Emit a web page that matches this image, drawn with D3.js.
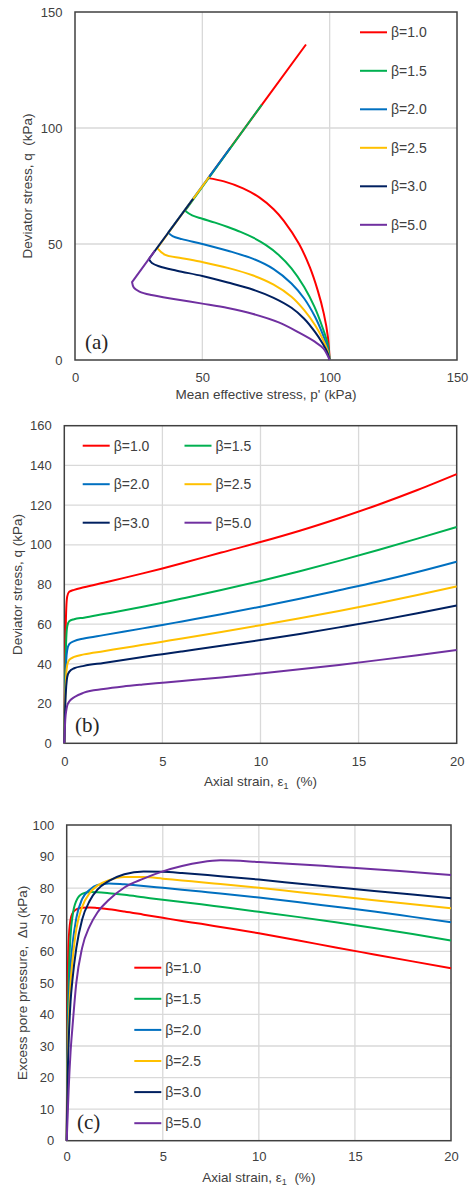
<!DOCTYPE html>
<meta charset="utf-8">
<head>
	<title>Stress paths, deviator stress and excess pore pressure</title>
	<script src="https://cdn.jsdelivr.net/npm/d3@7"></script>
	<style>
		body { margin: 0; background: #fff; }
		text { font-family: Arial, "Liberation Sans", sans-serif; fill: #404040; }
		.grid line { stroke: #d9d9d9; stroke-width: 1.3; }
		.frame { fill: none; stroke: #404040; stroke-width: 1.5; }
		.curve { fill: none; stroke-width: 2; stroke-linejoin: round; }
		.tag { font-family: "Liberation Serif", "Times New Roman", serif; font-size: 21px; fill: #262626; }
	</style>
</head>
<body>
<div id="chart"></div>
<script>
	// ---- data ----
	var betaLabels = ["β=1.0", "β=1.5", "β=2.0", "β=2.5", "β=3.0", "β=5.0"];
	var betaColors = ["#ff0000", "#00b050", "#0070c0", "#ffc000", "#002060", "#7030a0"];

	// (a) effective stress paths, [p', q] in kPa
	// curved part from (100,0) up to the turning point, last point = end on the failure line
	var pathA10 = [[100,0],[99.3,10],[97.7,20],[95.3,30],[92.2,40],[88,50],[82,60],[78,65],[72.5,70],[66,74],[58.5,77],[52.3,78.4],[90.7,136]];
	var pathA15 = [[100,0],[99.2,7],[97.2,14],[94,23],[90,31.5],[85,39.5],[80,45.3],[75,49.5],[70,52.7],[65,55.2],[60,57.3],[55,59.2],[50,60.9],[46,62.3],[43.2,64.3],[73.3,110]];
	var pathA20 = [[100,0],[99.2,5],[97.3,11],[94.3,18.5],[90,26.5],[85,33],[78,39.2],[70,43.6],[60,47.1],[50,50],[42,52.1],[38.3,53.4],[36.6,54.9],[61,91.5]];
	var pathA25 = [[100,0],[99.2,4],[97.3,9],[94.3,15],[90,21.5],[85,27.3],[78,32.5],[70,36.4],[60,39.7],[50,42.2],[42,43.9],[35.2,45.4],[32.3,48.2],[52.7,79]];
	var pathA30 = [[100,0],[99.2,3],[97.3,7],[94.3,12],[90,17.8],[85,22.5],[78,26.8],[70,30.3],[60,33.4],[50,36.2],[40,38.5],[33,40.4],[30.2,41.8],[29,43.5],[46.4,69.5]];
	var pathA50 = [[100,0],[97.5,5],[94,8],[88,11.8],[80,16.2],[70,19.8],[60,22.4],[50,24.3],[40,26.1],[30,28],[25.3,29.5],[23.1,31.2],[22.4,33.6],[31.3,47]];
	var pathsA = [pathA10, pathA15, pathA20, pathA25, pathA30, pathA50];

	// (b) deviator stress q (kPa) against axial strain (%)
	var strainB = [0, 0.05, 0.1, 0.15, 0.25, 0.5, 1, 2, 3, 4, 5, 6, 8, 10, 12, 14, 16, 18, 20];
	var qB10 = [0, 45, 68, 74, 76.3, 77.3, 78.6, 80.9, 83.2, 85.6, 88.1, 90.7, 96.1, 101.4, 107.1, 113.4, 120.2, 127.6, 135.6];
	var qB15 = [0, 35, 53, 59, 61.5, 62.5, 63.3, 65.1, 66.9, 68.8, 70.8, 72.9, 77.2, 81.8, 86.7, 91.9, 97.4, 103.1, 109];
	var qB20 = [0, 28, 42, 47, 50, 51.5, 52.8, 54.5, 56.2, 57.9, 59.6, 61.4, 65, 68.8, 72.8, 77.1, 81.5, 86.3, 91.5];
	var qB25 = [0, 24, 35, 39.5, 42, 43.5, 44.8, 46.4, 48, 49.6, 51.2, 52.8, 56.1, 59.5, 63, 66.7, 70.6, 74.7, 79];
	var qB30 = [0, 20, 29, 33.5, 36, 37.8, 39, 40.5, 42, 43.5, 44.9, 46.3, 49.1, 52, 55.1, 58.4, 61.8, 65.5, 69.4];
	var qB50 = [0, 12, 16.5, 19, 21, 23.2, 25.5, 27.3, 28.6, 29.6, 30.5, 31.4, 33.2, 35.2, 37.3, 39.5, 41.9, 44.4, 47];
	var qB = [qB10, qB15, qB20, qB25, qB30, qB50];

	// (c) excess pore pressure (kPa) against axial strain (%)
	var strainC = [0, 0.05, 0.1, 0.2, 0.3, 0.5, 0.8, 1.2, 1.6, 2.2, 3, 4, 5, 6, 7, 8, 10, 12, 14, 16, 18, 20];
	var uC10 = [0, 48, 63, 70, 72, 73.3, 73.8, 73.9, 73.7, 73.3, 72.6, 71.6, 70.6, 69.6, 68.7, 67.7, 65.7, 63.5, 61.2, 59, 56.8, 54.6];
	var uC15 = [0, 35, 50, 65, 71, 76, 78.2, 78.8, 78.7, 78.4, 77.9, 77.1, 76.3, 75.6, 74.9, 74.1, 72.5, 70.9, 69.2, 67.4, 65.5, 63.4];
	var uC20 = [0, 28, 42, 55, 62, 70.5, 76.5, 79.5, 81, 81.5, 81.2, 80.7, 80.1, 79.5, 78.9, 78.3, 77, 75.6, 74.1, 72.6, 70.9, 69.2];
	var uC25 = [0, 24, 36, 50, 57, 67, 74, 78.5, 80.8, 82.5, 83.5, 83.5, 83, 82.4, 81.9, 81.3, 80.1, 78.8, 77.5, 76.2, 74.9, 73.6];
	var uC30 = [0, 20, 31, 44, 51, 61, 70, 76, 79.5, 82.3, 84.4, 85.3, 85.2, 84.8, 84.3, 83.8, 82.7, 81.5, 80.3, 79.1, 78, 76.8];
	var uC50 = [0, 8, 16, 28, 36, 50, 61, 68, 72.3, 76.3, 80.2, 83, 85.3, 87, 88.2, 88.8, 88.3, 87.6, 86.8, 86, 85.1, 84.2];
	var uC = [uC10, uC15, uC20, uC25, uC30, uC50];

	// tick labels
	var ticksA = [0, 50, 100, 150];
	var ticksStrain = [0, 5, 10, 15, 20];
	var ticksQB = [0, 20, 40, 60, 80, 100, 120, 140, 160];
	var ticksUC = [0, 10, 20, 30, 40, 50, 60, 70, 80, 90, 100];

	var w = 475, h = 1187;
	var svg = d3.select("#chart").append("svg").attr("width", w).attr("height", h);

	// draws grid, frame and tick labels for one panel, returns the scales
	function drawPanel(c) {
		var x = d3.scaleLinear().domain([c.xTicks[0], c.xTicks[c.xTicks.length - 1]]).range([c.left, c.right]);
		var y = d3.scaleLinear().domain([c.yTicks[0], c.yTicks[c.yTicks.length - 1]]).range([c.bottom, c.top]);
		var g = svg.append("g");

		var grid = g.append("g").attr("class", "grid");
		grid.selectAll(".gx").data(c.xTicks.slice(1, -1)).enter().append("line")
			.attr("x1", d => x(d)).attr("x2", d => x(d)).attr("y1", c.top).attr("y2", c.bottom);
		grid.selectAll(".gy").data(c.yTicks.slice(1, -1)).enter().append("line")
			.attr("y1", d => y(d)).attr("y2", d => y(d)).attr("x1", c.left).attr("x2", c.right);

		g.append("rect").attr("class", "frame")
			.attr("x", c.left).attr("y", c.top).attr("width", c.right - c.left).attr("height", c.bottom - c.top);

		var ax = g.append("g").attr("transform", "translate(0," + c.bottom + ")")
			.call(d3.axisBottom(x).tickValues(c.xTicks).tickSize(0).tickPadding(c.padX).tickFormat(d3.format("d")));
		var ay = g.append("g").attr("transform", "translate(" + c.left + ",0)")
			.call(d3.axisLeft(y).tickValues(c.yTicks).tickSize(0).tickPadding(12.5).tickFormat(d3.format("d")));
		[ax, ay].forEach(function (a) {
			a.select(".domain").remove();
			a.attr("font-size", 13).attr("font-family", null).attr("color", "#404040");
		});

		// axis titles
		var xt = g.append("text").attr("x", (c.left + c.right) / 2).attr("y", c.xTitleY)
			.attr("text-anchor", "middle").style("font-size", "13.5px").style("white-space", "pre");
		if (c.strain) {
			xt.append("tspan").text("Axial strain, ε");
			xt.append("tspan").attr("font-size", "9px").attr("dy", 3).text("1");
			xt.append("tspan").attr("dy", -3).text("  (%)");
		} else {
			xt.text(c.xTitle);
		}
		g.append("text").attr("transform", "translate(" + c.yTitleX + "," + (c.top + c.bottom) / 2 + ") rotate(-90)")
			.attr("text-anchor", "middle").style("font-size", "13.5px").style("white-space", "pre")
			.text(c.yTitle);

		g.append("text").attr("class", "tag").attr("x", c.tagX).attr("y", c.tagY).text(c.tag);
		return { x: x, y: y, g: g };
	}

	function legendItem(g, x0, yRow, i) {
		g.append("line").attr("x1", x0).attr("x2", x0 + 27).attr("y1", yRow).attr("y2", yRow)
			.attr("stroke", betaColors[i]).attr("stroke-width", 2);
		g.append("text").attr("x", x0 + 31).attr("y", yRow).attr("dy", "0.36em")
			.style("font-size", "14px").text(betaLabels[i]);
	}

	// ---- (a) stress path ----
	var pa = drawPanel({ left: 75, right: 457, top: 12, bottom: 360, xTicks: ticksA, yTicks: ticksA, padX: 12.5,
		xTitle: "Mean effective stress, p' (kPa)", xTitleY: 399, yTitle: "Deviator stress, q  (kPa)", yTitleX: 32,
		tag: "(a)", tagX: 85, tagY: 349 });
	var lineA = d3.line().x(d => pa.x(d[0])).y(d => pa.y(d[1])).curve(d3.curveCatmullRom.alpha(0.5));
	// smooth part up to the turning point, then straight along the failure line
	pa.g.selectAll(".curve").data(pathsA).enter().append("path").attr("class", "curve")
		.attr("d", function (d) {
			var end = d[d.length - 1];
			return lineA(d.slice(0, -1)) + "L" + pa.x(end[0]) + "," + pa.y(end[1]);
		})
		.attr("stroke", (d, i) => betaColors[i]);
	betaLabels.forEach(function (b, i) { legendItem(pa.g, 360, 32.3 + i * 38.5, i); });

	// ---- (b) deviator stress ----
	var pb = drawPanel({ left: 64.3, right: 456.7, top: 425.7, bottom: 743.3, xTicks: ticksStrain, yTicks: ticksQB, padX: 13,
		strain: true, xTitleY: 786, yTitle: "Deviator stress, q (kPa)", yTitleX: 22,
		tag: "(b)", tagX: 75, tagY: 732 });
	var lineB = d3.line().x((d, i) => pb.x(strainB[i])).y(d => pb.y(d)).curve(d3.curveMonotoneX);
	pb.g.selectAll(".curve").data(qB).enter().append("path").attr("class", "curve")
		.attr("d", lineB).attr("stroke", (d, i) => betaColors[i]);
	betaLabels.forEach(function (b, i) { legendItem(pb.g, i % 2 ? 184.5 : 82.7, 445.7 + Math.floor(i / 2) * 38.5, i); });

	// ---- (c) excess pore pressure ----
	var pc = drawPanel({ left: 66.7, right: 451, top: 825, bottom: 1140.7, xTicks: ticksStrain, yTicks: ticksUC, padX: 11.5,
		strain: true, xTitleY: 1181.5, yTitle: "Excess pore pressure,  Δu (kPa)", yTitleX: 27,
		tag: "(c)", tagX: 77, tagY: 1129 });
	var lineC = d3.line().x((d, i) => pc.x(strainC[i])).y(d => pc.y(d)).curve(d3.curveMonotoneX);
	pc.g.selectAll(".curve").data(uC).enter().append("path").attr("class", "curve")
		.attr("d", lineC).attr("stroke", (d, i) => betaColors[i]);
	betaLabels.forEach(function (b, i) { legendItem(pc.g, 134.3, 967.7 + i * 31.1, i); });
</script>
</body>
</html>
